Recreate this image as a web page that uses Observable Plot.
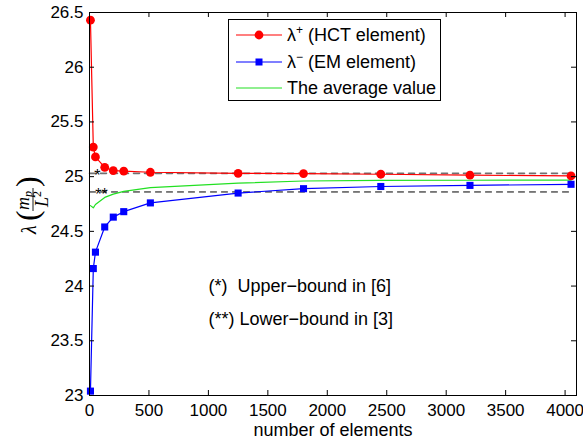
<!DOCTYPE html>
<html><head><meta charset="utf-8">
<script src="https://cdn.jsdelivr.net/npm/d3@7"></script>
<script src="https://cdn.jsdelivr.net/npm/@observablehq/plot@0.6"></script>
<style>
body{margin:0;background:#fff;}
#chart{width:583px;height:445px;}
</style></head><body><div id="chart"></div>
<script>
// ---- data ----
const elements = [8, 32, 50, 128, 200, 288, 512, 1250, 1800, 2450, 3200, 4050];
const hctValues = [26.43, 25.27, 25.18, 25.085, 25.055, 25.05, 25.04, 25.03, 25.028, 25.022, 25.013, 25.007];
const emValues = [23.04, 24.16, 24.31, 24.54, 24.63, 24.68, 24.76, 24.85, 24.89, 24.91, 24.92, 24.93];
const avgValues = [24.735, 24.715, 24.745, 24.81, 24.84, 24.865, 24.90, 24.94, 24.96, 24.966, 24.967, 24.968];
const upperBound = 25.03;
const lowerBound = 24.86;
const boundSpan = [0, 4050];
const xTicks = [0, 500, 1000, 1500, 2000, 2500, 3000, 3500, 4000];
const xTickLabels = ["0", "500", "1000", "1500", "2000", "2500", "3000", "3500", "4000"];
const yTicks = [23, 23.5, 24, 24.5, 25, 25.5, 26, 26.5];
const yTickLabels = ["23", "23.5", "24", "24.5", "25", "25.5", "26", "26.5"];
const xDomain = [0, 4096];
const yDomain = [23, 26.5];
const noteTexts = ["(*)  Upper\u2212bound in [6]", "(**) Lower\u2212bound in [3]"];
const noteX = [1000, 1000];
const noteY = [24, 23.7];
const starTexts = ["*", "**"];
const starX = [67, 101];
const starY = [upperBound, lowerBound];
const legendNames = ["(HCT element)", "(EM element)", "The average value"];
const xLabel = "number of elements";

// ---- layout ----
const W = 583, H = 445, ML = 89, MR = 7, MT = 12, MB = 50;
const FW = W - ML - MR, FH = H - MT - MB;
const RED = "#ff0000", BLUE = "#0000ff", GREEN = "#22e022";

const series = elements.map((x, i) => ({x, hct: hctValues[i], em: emValues[i], avg: avgValues[i]}));
const upperLine = boundSpan.map(x => ({x, y: upperBound}));
const lowerLine = boundSpan.map(x => ({x, y: lowerBound}));
const notes = noteTexts.map((t, i) => ({t, x: noteX[i], y: noteY[i]}));
const stars = starTexts.map((t, i) => ({t, x: starX[i], y: starY[i]}));

const svg = Plot.plot({
  width: W, height: H,
  marginLeft: ML, marginRight: MR, marginTop: MT, marginBottom: MB,
  style: {background: "white", color: "black", fontFamily: "'Liberation Sans', Arial, Helvetica, sans-serif", fontSize: "17px", overflow: "visible"},
  x: {domain: xDomain, label: null},
  y: {domain: yDomain, label: null},
  marks: [
    Plot.line(upperLine, {x: "x", y: "y", stroke: "#707070", strokeWidth: 1.6, strokeDasharray: "6,5"}),
    Plot.line(lowerLine, {x: "x", y: "y", stroke: "#000", strokeWidth: 1, strokeDasharray: "6,5"}),
    Plot.line(series, {x: "x", y: "avg", stroke: GREEN, strokeWidth: 1.2}),
    Plot.line(series, {x: "x", y: "em", stroke: BLUE, strokeWidth: 1.2}),
    Plot.line(series, {x: "x", y: "hct", stroke: RED, strokeWidth: 1.2}),
    Plot.dot(series, {x: "x", y: "em", r: 4, symbol: "square", fill: BLUE, stroke: "none"}),
    Plot.dot(series, {x: "x", y: "hct", r: 4.4, symbol: "circle", fill: RED, stroke: "none"}),
    Plot.text(stars, {x: "x", y: "y", text: "t", dy: 3, fontSize: 16, fill: "#000"}),
    Plot.text(notes, {x: "x", y: "y", text: "t", textAnchor: "start", fontSize: 18, fill: "#000"}),
    Plot.frame({stroke: "black", strokeWidth: 1}),
    Plot.tickX(xTicks, {x: d => d, insetTop: FH - 5, stroke: "black"}),
    Plot.tickX(xTicks, {x: d => d, insetBottom: FH - 5, stroke: "black"}),
    Plot.tickY(yTicks, {y: d => d, insetRight: FW - 5, stroke: "black"}),
    Plot.tickY(yTicks, {y: d => d, insetLeft: FW - 5, stroke: "black"}),
    Plot.axisX({ticks: xTicks, tickSize: 0, tickPadding: 8, tickFormat: d => xTickLabels[xTicks.indexOf(d)], label: null}),
    Plot.axisY({ticks: yTicks, tickSize: 0, tickPadding: 6, tickFormat: d => yTickLabels[yTicks.indexOf(d)], label: null}),
    Plot.text([xLabel], {frameAnchor: "bottom", dy: 40, fontSize: 18, fill: "#000"})
  ]
});
document.getElementById("chart").appendChild(svg);

const s = d3.select(svg);

// ---- legend ----
const lg = s.append("g").attr("font-family", "'Liberation Sans', Arial, sans-serif").attr("font-size", 18)
  .attr("fill", "black").attr("text-anchor", "start");
lg.append("rect").attr("x", 228.5).attr("y", 19.5).attr("width", 212).attr("height", 81)
  .attr("fill", "white").attr("stroke", "black").attr("stroke-width", 1);
const rowsY = [35, 62, 88];
const rowColors = [RED, BLUE, GREEN];
rowsY.forEach((yy, i) => {
  lg.append("line").attr("x1", 236).attr("x2", 282).attr("y1", yy).attr("y2", yy)
    .attr("stroke", rowColors[i]).attr("stroke-width", 1.2);
  if (i === 0) lg.append("circle").attr("cx", 259).attr("cy", yy).attr("r", 4.4).attr("fill", RED);
  if (i === 1) lg.append("rect").attr("x", 259 - 3.5).attr("y", yy - 3.5).attr("width", 7).attr("height", 7).attr("fill", BLUE);
  const t = lg.append("text").attr("x", 287).attr("y", yy + 6);
  if (i < 2) {
    t.append("tspan").text("\u03bb");
    t.append("tspan").attr("dy", -7).attr("font-size", 12).text(i === 0 ? "+" : "\u2212");
    t.append("tspan").attr("dy", 7).text(" " + legendNames[i]);
  } else {
    t.text(legendNames[i]);
  }
});

// ---- y axis label: lambda(m_p / L^2) ----
const yl = s.append("g").attr("transform", "translate(33,206) rotate(-90)")
  .attr("font-family", "'Liberation Serif', 'DejaVu Serif', serif").attr("fill", "black").attr("text-anchor", "start");
yl.append("text").attr("x", -28).attr("y", 3).attr("font-size", 20).attr("font-style", "italic").text("\u03bb");
yl.append("text").attr("x", -15).attr("y", 5).attr("font-size", 32).text("(");
const num = yl.append("text").attr("x", -4).attr("y", -4).attr("font-size", 18).attr("font-style", "italic");
num.append("tspan").text("m");
num.append("tspan").attr("dy", 3).attr("font-size", 12).text("p");
yl.append("line").attr("x1", -5).attr("x2", 18).attr("y1", 0).attr("y2", 0).attr("stroke", "black").attr("stroke-width", 0.9);
const den = yl.append("text").attr("x", -1).attr("y", 15).attr("font-size", 18).attr("font-style", "italic");
den.append("tspan").text("L");
den.append("tspan").attr("dy", -7).attr("font-size", 12).attr("font-style", "normal").text("2");
yl.append("text").attr("x", 19).attr("y", 5).attr("font-size", 32).text(")");
</script>
</body></html>
